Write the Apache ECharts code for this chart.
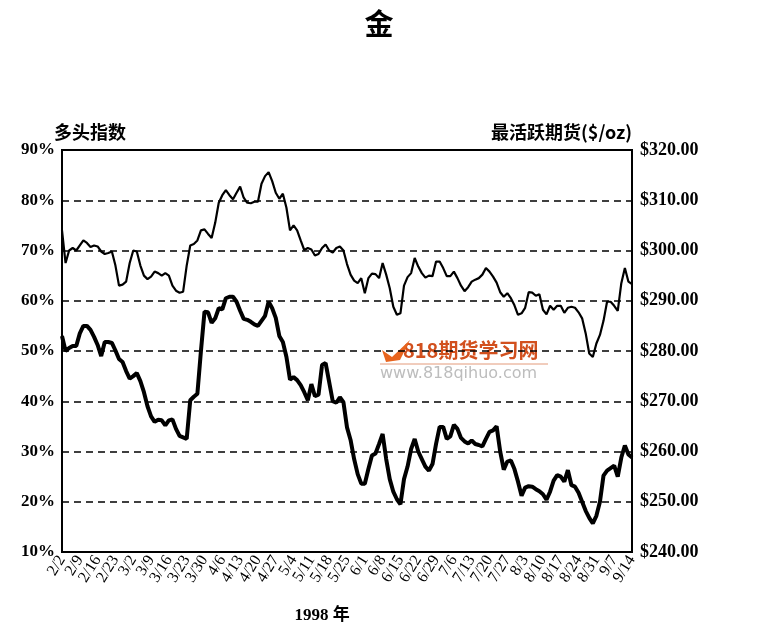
<!DOCTYPE html>
<html>
<head>
<meta charset="utf-8">
<script src="https://cdn.jsdelivr.net/npm/echarts@6/dist/echarts.min.js"></script>
<style>
  html, body { margin: 0; padding: 0; background: #fff; }
  #main { width: 758px; height: 630px; }
</style>
</head>
<body>
<div id="main"></div>
<script>
// weekly tick labels (Mondays, 1998)
var weekLabels = ['2/2', '2/9', '2/16', '2/23', '3/2', '3/9', '3/16', '3/23', '3/30', '4/6', '4/13', '4/20', '4/27',
  '5/4', '5/11', '5/18', '5/25', '6/1', '6/8', '6/15', '6/22', '6/29', '7/6', '7/13', '7/20', '7/27',
  '8/3', '8/10', '8/17', '8/24', '8/31', '9/7', '9/14'];

// 最活跃期货 gold price, $/oz, one value per trading day
var goldPrice = [
  304, 297.5, 300, 300.5, 300, 301, 302, 301.5, 300.7, 301,
  300.8, 299.8, 299.3, 299.5, 299.8, 297, 293, 293.2, 293.8, 297.5,
  300, 299.8, 297, 295, 294.3, 294.8, 295.8, 295.5, 295, 295.5,
  295, 293, 292, 291.6, 291.8, 297, 301, 301.3, 302, 304,
  304.2, 303.3, 302.5, 305.5, 309.5, 311, 312, 311, 310.2, 311.5,
  312.7, 310.5, 309.5, 309.4, 309.7, 309.7, 313.3, 314.8, 315.6, 313.8,
  311.5, 310.3, 311.3, 308.5, 304, 305, 304, 302, 300.1, 300.5,
  300.2, 299, 299.3, 300.5, 301.2, 300, 299.6, 300.5, 300.8, 300,
  297.3, 295.2, 294, 293.5, 294.5, 291.5, 294.5, 295.4, 295.3, 294.5,
  297.5, 295.2, 292.5, 288.8, 287.2, 287.5, 293, 294.7, 295.5, 298.5,
  296.8, 295.5, 294.6, 295, 294.9, 297.8, 297.8, 296.5, 294.9, 294.9,
  295.8, 294.5, 293, 291.9, 292.7, 293.8, 294.2, 294.5, 295.2, 296.5,
  295.8, 294.8, 293.6, 291.7, 290.8, 291.5, 290.5, 289.1, 287.2, 287.5,
  288.6, 291.7, 291.6, 291, 291.3, 288.2, 287.3, 289, 288.2, 289,
  289, 287.6, 288.6, 288.8, 288.6, 287.7, 286.5, 283.5, 279.5, 278.8,
  281.5, 283.2, 286, 289.8, 289.8, 289, 288, 293.5, 296.5, 293.8,
  293.3
];

// 多头指数, %, one value per trading day
var bullIndex = [
  53, 50, 50.6, 51, 51, 53.5, 55, 55, 54.2, 52.8,
  51.2, 49, 51.8, 51.8, 51.6, 50.1, 48.4, 47.8, 46, 44.5,
  45, 45.6, 44, 41.8, 39, 37, 35.9, 36.3, 36.2, 35.2,
  36.2, 36.4, 34.5, 33.1, 32.8, 32.5, 40.2, 40.9, 41.5, 50,
  57.8, 57.7, 55.6, 56.5, 58.5, 58.3, 60.5, 60.8, 60.8, 59.8,
  58, 56.4, 56.2, 55.8, 55.3, 55, 56, 57, 59.8, 58.5,
  56.6, 53, 51.8, 48.8, 44.3, 44.8, 44.2, 43.2, 41.8, 40.2,
  43.4, 41, 41.3, 47.2, 47.6, 43.8, 40, 39.7, 40.8, 39.8,
  34.8, 32.3, 28.5, 25.5, 23.6, 23.6, 26.5, 29.2, 29.6, 31.5,
  33.5, 28.5, 24.5, 22, 20.5, 19.5, 24.5, 27, 30.5, 32.5,
  30, 28.5, 27, 26.2, 27.5, 31.5, 34.9, 34.9, 32.5, 33,
  35.3, 34.5, 32.7, 32, 31.6, 32.2, 31.5, 31.3, 31, 32.5,
  33.9, 34.2, 35, 30, 26.4, 28, 28.2, 26.5, 24, 21.2,
  22.8, 23.1, 23, 22.5, 22.1, 21.5, 20.4, 22, 24.2, 25.3,
  25, 24, 26.3, 23.3, 23, 21.8, 20, 18.2, 16.8, 15.7,
  17.2, 20, 25.2, 26.2, 26.7, 27.2, 25, 28.8, 31.2, 29.4,
  28.8
];

var serif = '"Liberation Serif", "DejaVu Serif", serif';
var cjk = '"Noto Sans CJK SC", sans-serif';
var mixed = '"Liberation Serif", "Noto Sans CJK SC", serif';

var chart = echarts.init(document.getElementById('main'));

var dayLabel = function (v) { return weekLabels[Math.round(v / 5)] || ''; };
var xLabelStyle = {
  rotate: 58,
  margin: 5,
  color: '#000',
  fontFamily: serif,
  fontSize: 16,
  formatter: dayLabel
};

var option = {
  backgroundColor: '#fff',
  animation: false,
  title: {
    text: '金',
    left: 'center',
    top: 4,
    textStyle: { fontFamily: cjk, fontSize: 29, fontWeight: 'bold', color: '#000' }
  },
  grid: {
    left: 62, right: 126, top: 150, bottom: 78,
    outerBoundsMode: 'none',
    show: true, borderColor: '#000', borderWidth: 2
  },
  xAxis: [
    {
      // inner weekly labels
      type: 'value',
      position: 'bottom',
      min: 0, max: 160, interval: 5,
      axisLine: { onZero: false, lineStyle: { color: '#000', width: 2 } },
      axisTick: { show: false },
      splitLine: { show: false },
      axisLabel: Object.assign({ showMinLabel: false, showMaxLabel: false }, xLabelStyle),
      name: '1998 年',
      nameLocation: 'middle',
      nameGap: 55,
      nameTextStyle: { fontFamily: mixed, fontSize: 17, fontWeight: 'bold', color: '#000', padding: [0, 50, 0, 0] }
    },
    {
      // first and last week labels
      type: 'value',
      position: 'bottom',
      min: 0, max: 160, interval: 160,
      axisLine: { show: false, onZero: false },
      axisTick: { show: false },
      splitLine: { show: false },
      axisLabel: Object.assign({ showMinLabel: true, showMaxLabel: true }, xLabelStyle)
    }
  ],
  yAxis: [
    {
      type: 'value',
      min: 10, max: 90, interval: 10,
      position: 'left',
      name: '多头指数',
      nameLocation: 'end',
      nameGap: 9,
      nameTextStyle: { fontFamily: cjk, fontSize: 18, fontWeight: 'bold', color: '#000', align: 'left', padding: [0, 0, 0, -8] },
      axisLine: { show: true, onZero: false, lineStyle: { color: '#000', width: 2 } },
      axisTick: { show: false },
      axisLabel: {
        color: '#000', fontFamily: serif, fontSize: 17, fontWeight: 'bold', margin: 7,
        formatter: '{value}%'
      },
      splitLine: { show: true, lineStyle: { color: '#000', width: 1.5, type: [7, 5] } }
    },
    {
      type: 'value',
      min: 240, max: 320, interval: 10,
      position: 'right',
      name: '最活跃期货($/oz)',
      nameLocation: 'end',
      nameGap: 9,
      nameTextStyle: { fontFamily: cjk, fontSize: 18, fontWeight: 'bold', color: '#000', align: 'right' },
      axisLine: { show: true, onZero: false, lineStyle: { color: '#000', width: 2 } },
      axisTick: { show: false },
      axisLabel: {
        color: '#000', fontFamily: serif, fontSize: 18, fontWeight: 'bold', margin: 8,
        formatter: function (v) { return '$' + v.toFixed(2); }
      },
      splitLine: { show: false }
    }
  ],
  graphic: [
    {
      type: 'text', left: 403, top: 340,
      style: { text: '818期货学习网', fontFamily: cjk, fontSize: 20, fontWeight: 'bold', fill: '#d2501e' }
    },
    {
      type: 'polygon', shape: { points: [[382, 350], [392, 357], [410, 340], [400, 360], [386, 362]] },
      style: { fill: '#e8641e' }
    },
    {
      type: 'line', shape: { x1: 380, y1: 364, x2: 548, y2: 364 }, style: { stroke: '#e39a7a', lineWidth: 1 }
    },
    {
      type: 'text', left: 380, top: 366,
      style: { text: 'www.818qihuo.com', fontFamily: '"DejaVu Sans", sans-serif', fontSize: 16, fill: '#bdbdbd' }
    }
  ],
  series: [
    {
      name: '最活跃期货',
      type: 'line',
      xAxisIndex: 0,
      yAxisIndex: 1,
      showSymbol: false,
      lineStyle: { color: '#000', width: 2.2 },
      data: goldPrice.map(function (v, i) { return [i, v]; })
    },
    {
      name: '多头指数',
      type: 'line',
      xAxisIndex: 0,
      yAxisIndex: 0,
      showSymbol: false,
      lineStyle: { color: '#000', width: 4 },
      data: bullIndex.map(function (v, i) { return [i, v]; })
    }
  ]
};

chart.setOption(option);
</script>
</body>
</html>
